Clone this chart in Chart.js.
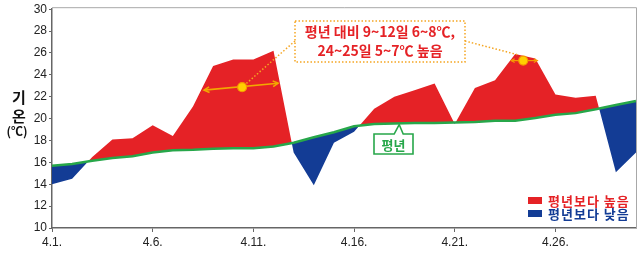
<!DOCTYPE html>
<html>
<head>
<meta charset="utf-8">
<script src="https://cdn.jsdelivr.net/npm/chart.js@4"></script>
<style>
  body { margin: 0; background: #fff; }
  #chart { display: block; }
</style>
</head>
<body>
<canvas id="chart" width="640" height="257"></canvas>
<script>
// 4월 일별 기온 vs 평년
var days = ['4.1.', '4.2.', '4.3.', '4.4.', '4.5.', '4.6.', '4.7.', '4.8.', '4.9.', '4.10.',
            '4.11.', '4.12.', '4.13.', '4.14.', '4.15.', '4.16.', '4.17.', '4.18.', '4.19.', '4.20.',
            '4.21.', '4.22.', '4.23.', '4.24.', '4.25.', '4.26.', '4.27.', '4.28.', '4.29.', '4.30.'];
var actual = [14.0, 14.5, 16.5, 18.1, 18.2, 19.4, 18.4, 21.1, 24.8, 25.4,
              25.4, 26.2, 16.9, 13.9, 17.8, 18.8, 20.9, 22.0, 22.6, 23.2,
              19.5, 22.8, 23.5, 25.9, 25.5, 22.2, 21.9, 22.1, 15.1, 16.9];
var normal = [15.7, 15.85, 16.15, 16.4, 16.55, 16.9, 17.1, 17.15, 17.25, 17.3,
              17.3, 17.45, 17.8, 18.3, 18.75, 19.3, 19.5, 19.55, 19.6, 19.6,
              19.65, 19.7, 19.8, 19.8, 20.05, 20.35, 20.5, 20.85, 21.25, 21.6];
var legendLabels = ['평년보다 높음', '평년보다 낮음'];
var noteLines = ['평년 대비 9~12일 6~8℃,', '24~25일 5~7℃ 높음'];

var RED = '#e52226', BLUE = '#133c95', GREEN = '#27a74a', ORANGE = '#f5a623';
var KR = '"Noto Sans CJK KR", sans-serif';

function arrow(ctx, x1, y1, x2, y2, h) {
  ctx.beginPath();
  ctx.moveTo(x1, y1); ctx.lineTo(x2, y2);
  ctx.stroke();
  var a = Math.atan2(y2 - y1, x2 - x1);
  [[x2, y2, a], [x1, y1, a + Math.PI]].forEach(function(p){
    ctx.beginPath();
    ctx.moveTo(p[0] - h * Math.cos(p[2] - 0.5), p[1] - h * Math.sin(p[2] - 0.5));
    ctx.lineTo(p[0], p[1]);
    ctx.lineTo(p[0] - h * Math.cos(p[2] + 0.5), p[1] - h * Math.sin(p[2] + 0.5));
    ctx.stroke();
  });
}
function dot(ctx, x, y) {
  ctx.beginPath();
  ctx.arc(x, y, 4.5, 0, Math.PI * 2);
  ctx.fillStyle = '#ffd000';
  ctx.fill();
  ctx.lineWidth = 1.2;
  ctx.strokeStyle = '#f59a00';
  ctx.stroke();
}

var decor = {
  id: 'decor',
  afterDraw: function(chart) {
    var ctx = chart.ctx, a = chart.chartArea;
    var xs = chart.scales.x, ys = chart.scales.y;
    ctx.save();

    // 위/오른쪽 테두리
    ctx.strokeStyle = '#a8a8a8';
    ctx.lineWidth = 1;
    ctx.beginPath();
    ctx.moveTo(a.left, a.top - 1.5); ctx.lineTo(a.right + 0.5, a.top - 1.5); ctx.lineTo(a.right + 0.5, a.bottom);
    ctx.stroke();

    // y축 제목
    ctx.fillStyle = '#111';
    ctx.textAlign = 'center';
    ctx.textBaseline = 'middle';
    ctx.font = 'bold 15px ' + KR;
    ctx.fillText('기', 19, 97);
    ctx.fillText('온', 19, 116);
    ctx.font = 'bold 12px ' + KR;
    ctx.fillText('(℃)', 17, 131);

    // 범례
    ctx.letterSpacing = '1px';
    [[RED, legendLabels[0], 197], [BLUE, legendLabels[1], 210]].forEach(function(l){
      ctx.fillStyle = l[0];
      ctx.fillRect(528, l[2], 14, 7);
      ctx.font = 'bold 13px ' + KR;
      ctx.textAlign = 'left';
      ctx.fillText(l[1], 548, l[2] + 4);
    });
    ctx.letterSpacing = '0px';

    // 설명 박스
    ctx.fillStyle = '#fff';
    ctx.fillRect(295, 21, 170, 41);
    ctx.setLineDash([1.5, 2]);
    ctx.strokeStyle = ORANGE;
    ctx.lineWidth = 1.5;
    ctx.strokeRect(295, 21, 170, 41);

    var d1x = xs.getPixelForValue(9.44), d1y = ys.getPixelForValue(22.87);
    var d2x = xs.getPixelForValue(23.4), d2y = ys.getPixelForValue(25.3);
    ctx.beginPath();
    ctx.moveTo(295, 41); ctx.lineTo(d1x, d1y);
    ctx.moveTo(465, 41); ctx.lineTo(d2x - 6, d2y - 6);
    ctx.stroke();
    ctx.setLineDash([]);

    ctx.fillStyle = RED;
    ctx.textAlign = 'center';
    ctx.font = 'bold 14px ' + KR;
    ctx.fillText(noteLines[0], 380, 32);
    ctx.fillText(noteLines[1], 380, 51);

    // 화살표 + 점
    ctx.strokeStyle = '#f2a900';
    ctx.lineWidth = 1.6;
    arrow(ctx, xs.getPixelForValue(7.55), ys.getPixelForValue(22.6),
               xs.getPixelForValue(11.23), ys.getPixelForValue(23.23), 6);
    dot(ctx, d1x, d1y);
    arrow(ctx, xs.getPixelForValue(22.8), d2y, xs.getPixelForValue(24.1), d2y, 4);
    dot(ctx, d2x, d2y);

    // 평년 말풍선
    var tx = xs.getPixelForValue(17.24), ty = ys.getPixelForValue(19.55) + 1;
    ctx.beginPath();
    ctx.moveTo(374, 134); ctx.lineTo(tx - 5, 134); ctx.lineTo(tx, ty);
    ctx.lineTo(tx + 4, 134); ctx.lineTo(413, 134); ctx.lineTo(413, 154);
    ctx.lineTo(374, 154); ctx.closePath();
    ctx.fillStyle = '#fff';
    ctx.fill();
    ctx.strokeStyle = GREEN;
    ctx.lineWidth = 1.6;
    ctx.stroke();
    ctx.fillStyle = GREEN;
    ctx.font = 'bold 13px ' + KR;
    ctx.fillText('평년', 393.5, 145);

    ctx.restore();
  }
};

new Chart(document.getElementById('chart'), {
  type: 'line',
  data: {
    labels: days,
    datasets: [
      {
        label: '평년',
        data: normal,
        borderColor: GREEN,
        borderWidth: 2.5,
        pointRadius: 0,
        fill: false,
        tension: 0
      },
      {
        label: '기온',
        data: actual,
        borderColor: 'rgba(0,0,0,0)',
        borderWidth: 0,
        pointRadius: 0,
        tension: 0,
        fill: { target: 0, above: RED, below: BLUE }
      }
    ]
  },
  options: {
    responsive: false,
    animation: false,
    devicePixelRatio: 1,
    layout: { padding: { top: 8, right: 4, left: 0, bottom: 0 } },
    plugins: { legend: { display: false }, tooltip: { enabled: false } },
    scales: {
      x: {
        afterFit: function(s){ s.height = 29; },
        grid: {
          drawOnChartArea: false,
          tickLength: 4,
          tickColor: function(c){ return c.index % 5 === 0 ? '#666' : 'rgba(0,0,0,0)'; }
        },
        border: { color: '#666', width: 1.5 },
        ticks: {
          autoSkip: false,
          maxRotation: 0,
          padding: 3,
          color: '#222',
          font: { family: '"Liberation Sans", Arial, sans-serif', size: 12 },
          callback: function(v, i){ return i % 5 === 0 ? days[i] : ''; }
        }
      },
      y: {
        min: 10,
        max: 30,
        afterFit: function(s){ s.width = 52; },
        grid: { drawOnChartArea: false, tickLength: 3, tickColor: '#666' },
        border: { color: '#666', width: 1.5 },
        ticks: {
          stepSize: 2,
          padding: 2,
          color: '#222',
          font: { family: '"Liberation Sans", Arial, sans-serif', size: 12 }
        }
      }
    }
  },
  plugins: [decor]
});
</script>
</body>
</html>
